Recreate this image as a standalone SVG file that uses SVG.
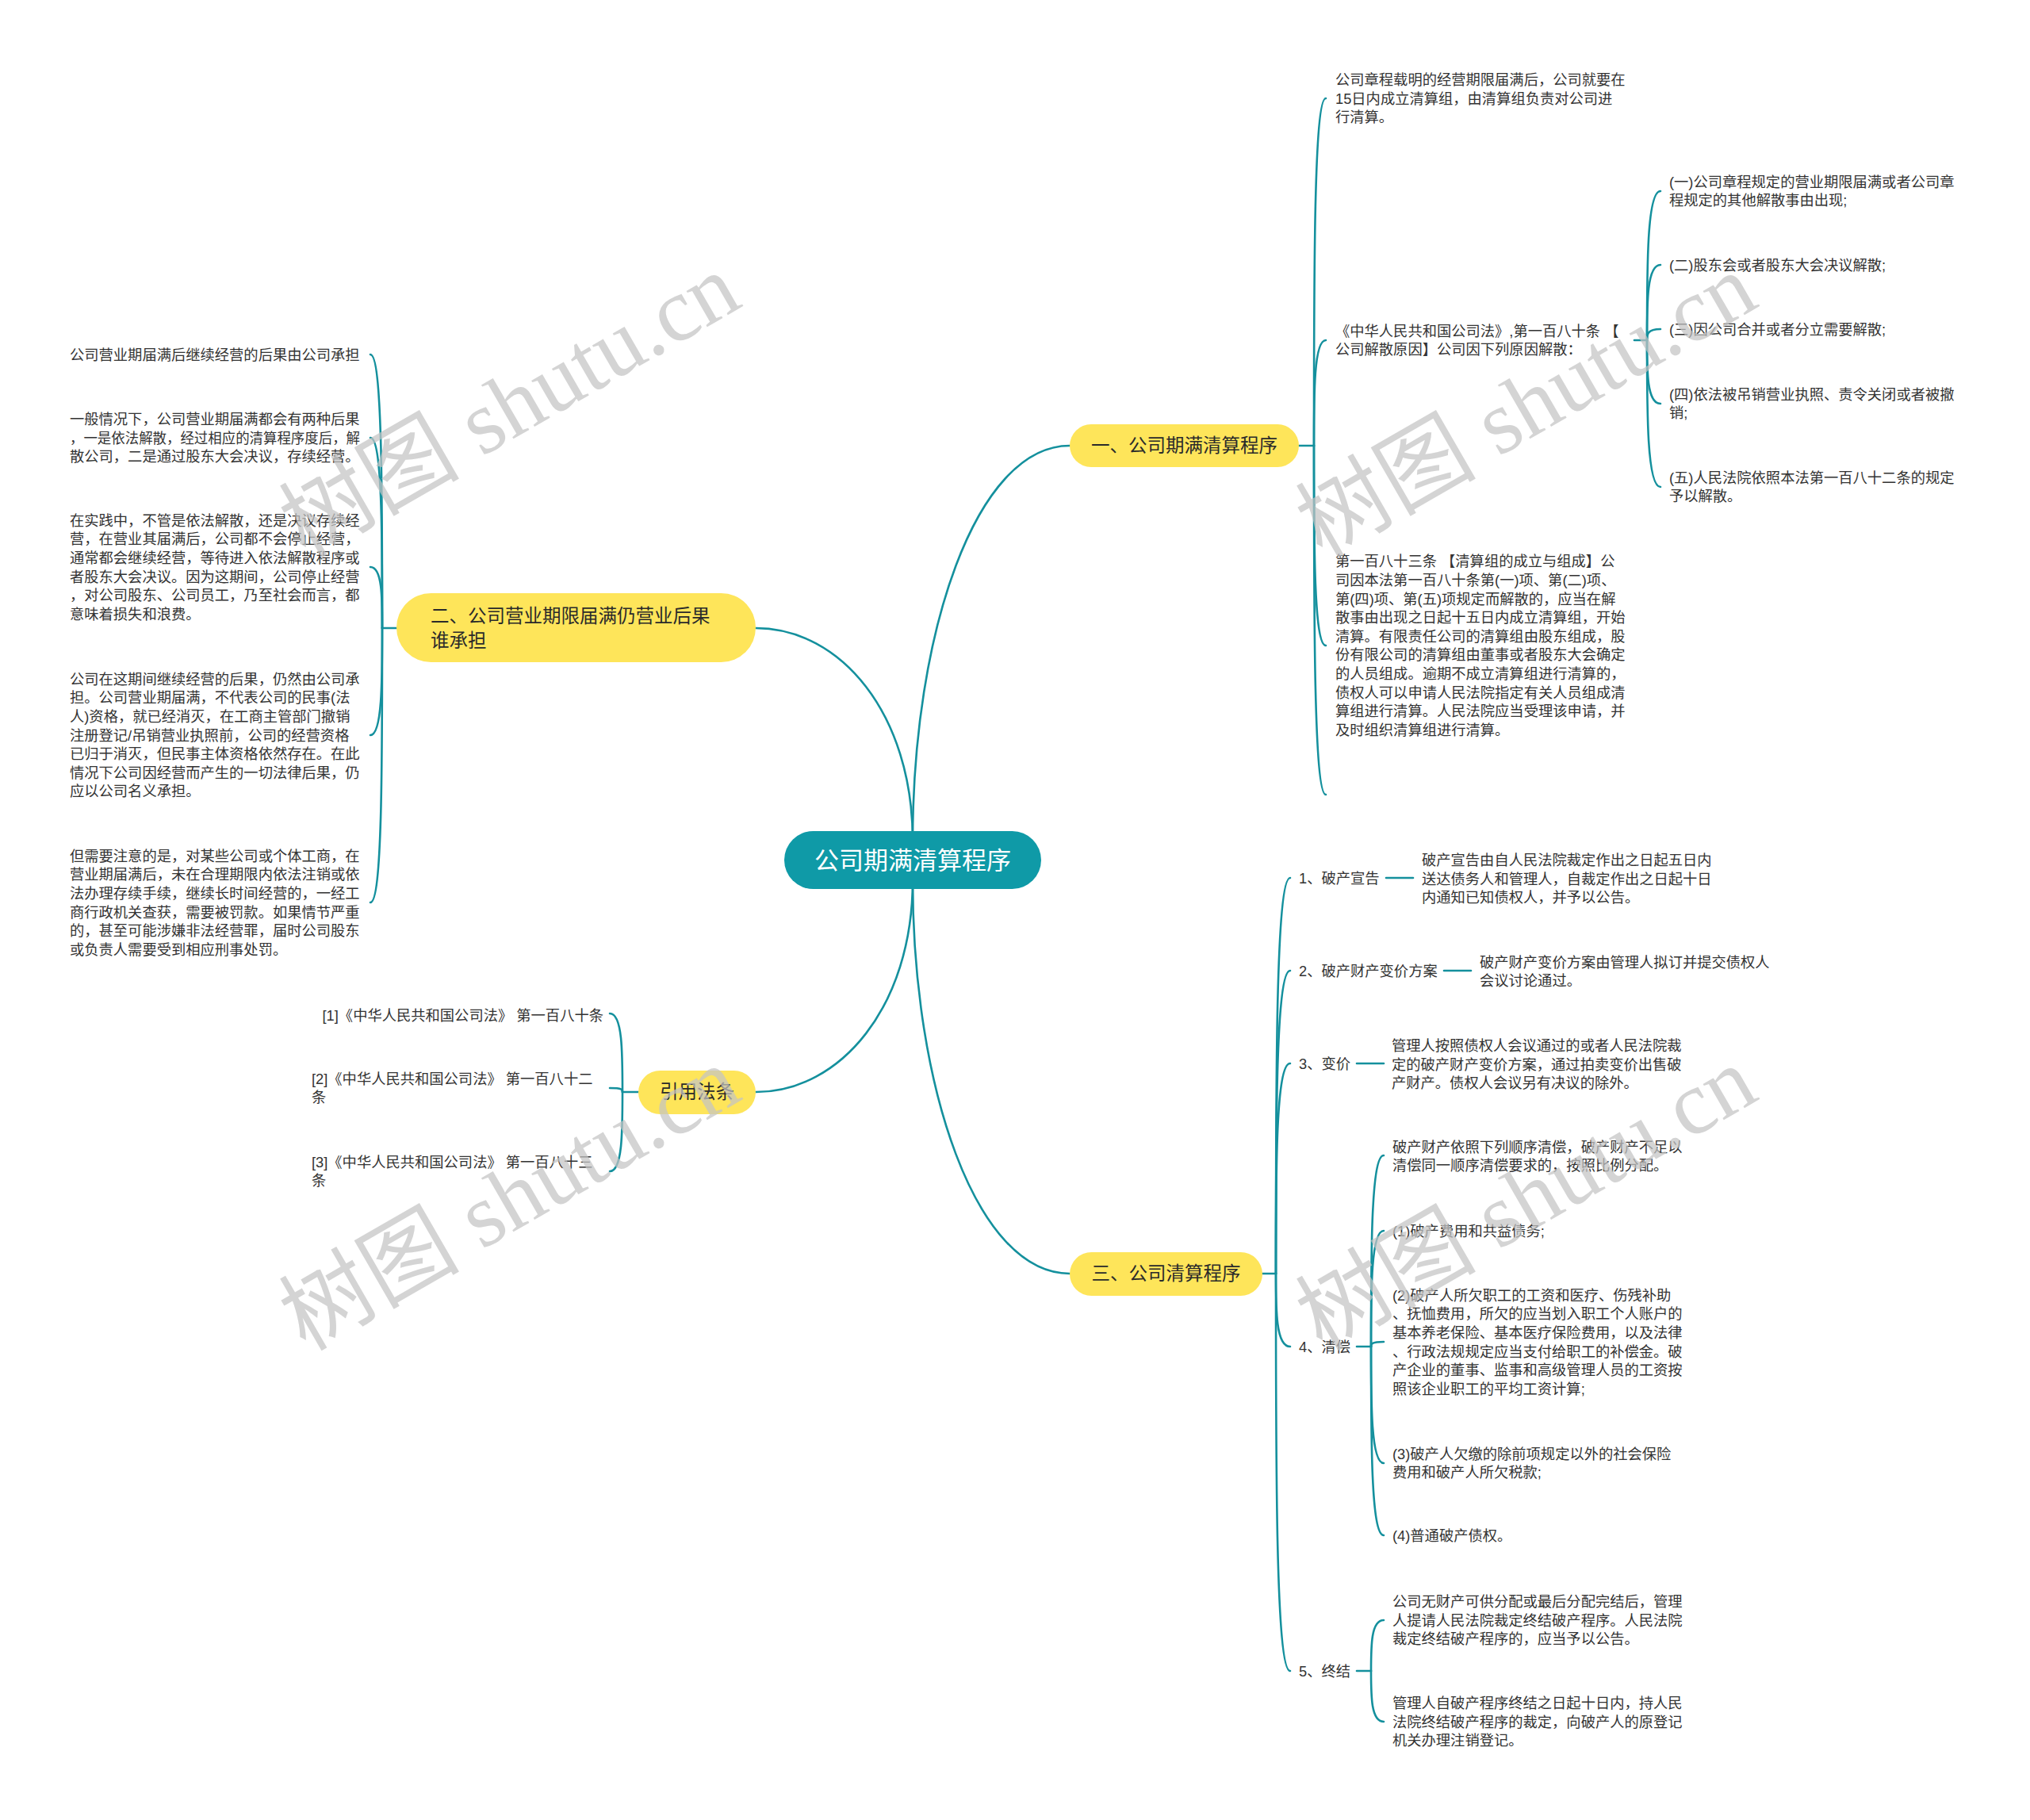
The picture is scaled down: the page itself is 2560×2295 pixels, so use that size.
<svg xmlns="http://www.w3.org/2000/svg" width="2560" height="2295" viewBox="0 0 2560 2295">
<style>
.t{font-family:'Liberation Sans','Noto Sans CJK SC',sans-serif;font-size:18.3px;fill:#333}
.m{font-family:'Liberation Sans','Noto Sans CJK SC',sans-serif;font-size:23.5px;fill:#2a2a2a}
.r{font-family:'Liberation Sans','Noto Sans CJK SC',sans-serif;font-size:31px;fill:#fff}
.ln{fill:none;stroke:#14909d;stroke-width:2.6;stroke-linecap:round}
.pill{fill:#fee55a}
.root{fill:#0f9aa7}
.wm{font-family:'Liberation Serif','Noto Sans CJK SC',serif;font-size:114px;fill:#c4c4c4;opacity:0.72}
</style>
<rect width="2560" height="2295" fill="#fff"/>
<g id="connectors">
<path class="ln" d="M1151,1060 C1151,800 1230,562 1349,562"/>
<path class="ln" d="M1151,1060 C1151,900 1060,792 953,792"/>
<path class="ln" d="M1151,1110 C1151,1269 1060,1377 953,1377"/>
<path class="ln" d="M1151,1110 C1151,1369 1230,1606 1349,1606"/>
<path class="ln" d="M1638,562 H1657"/>
<path class="ln" d="M1657,562 C1657,343 1657,124 1672,124"/>
<path class="ln" d="M1657,562 C1657,495 1657,429 1672,429"/>
<path class="ln" d="M1657,562 C1657,688 1657,814 1672,814"/>
<path class="ln" d="M1657,562 C1657,782 1657,1002 1672,1002"/>
<path class="ln" d="M2061,429 H2077"/>
<path class="ln" d="M2077,429 C2077,335 2077,241 2094,241"/>
<path class="ln" d="M2077,429 C2077,381 2077,334 2094,334"/>
<path class="ln" d="M2077,429 C2077,422 2077,415 2094,415"/>
<path class="ln" d="M2077,429 C2077,469 2077,509 2094,509"/>
<path class="ln" d="M2077,429 C2077,521 2077,614 2094,614"/>
<path class="ln" d="M500,792 H482"/>
<path class="ln" d="M482,792 C482,619 482,447 467,447"/>
<path class="ln" d="M482,792 C482,672 482,552 467,552"/>
<path class="ln" d="M482,792 C482,753 482,715 467,715"/>
<path class="ln" d="M482,792 C482,859 482,927 467,927"/>
<path class="ln" d="M482,792 C482,965 482,1138 467,1138"/>
<path class="ln" d="M805,1377 H785"/>
<path class="ln" d="M785,1377 C785,1327 785,1278 769,1278"/>
<path class="ln" d="M785,1377 C785,1374 785,1372 769,1372"/>
<path class="ln" d="M785,1377 C785,1427 785,1477 769,1477"/>
<path class="ln" d="M1592,1606 H1609"/>
<path class="ln" d="M1609,1606 C1609,1356 1609,1107 1627,1107"/>
<path class="ln" d="M1609,1606 C1609,1415 1609,1224 1627,1224"/>
<path class="ln" d="M1609,1606 C1609,1473 1609,1341 1627,1341"/>
<path class="ln" d="M1609,1606 C1609,1652 1609,1698 1627,1698"/>
<path class="ln" d="M1609,1606 C1609,1856 1609,2107 1627,2107"/>
<path class="ln" d="M1748,1107 H1782"/>
<path class="ln" d="M1821,1224 H1855"/>
<path class="ln" d="M1711,1341 H1745"/>
<path class="ln" d="M1711,1698 H1729"/>
<path class="ln" d="M1729,1698 C1729,1577 1729,1457 1745,1457"/>
<path class="ln" d="M1729,1698 C1729,1625 1729,1552 1745,1552"/>
<path class="ln" d="M1729,1698 C1729,1695 1729,1692 1745,1692"/>
<path class="ln" d="M1729,1698 C1729,1771 1729,1845 1745,1845"/>
<path class="ln" d="M1729,1698 C1729,1817 1729,1936 1745,1936"/>
<path class="ln" d="M1711,2107 H1729"/>
<path class="ln" d="M1729,2107 C1729,2075 1729,2043 1745,2043"/>
<path class="ln" d="M1729,2107 C1729,2139 1729,2171 1745,2171"/>
</g>
<g id="root">
<rect class="root" x="989" y="1048" width="324" height="73" rx="36.5"/>
<text class="r" x="1151" y="1096" text-anchor="middle">公司期满清算程序</text>
</g>
<g id="branch1">
<rect class="pill" x="1349" y="535" width="289" height="54" rx="27"/>
<text class="m" x="1493.5" y="570.3" text-anchor="middle">一、公司期满清算程序</text>
</g>
<g id="branch2">
<rect class="pill" x="500" y="748" width="453" height="87" rx="43.5"/>
<text class="m"><tspan x="543" y="785.3">二、公司营业期限届满仍营业后果</tspan><tspan x="543" y="816.3">谁承担</tspan></text>
</g>
<g id="branch-ref">
<rect class="pill" x="805" y="1350" width="148" height="55" rx="27.5"/>
<text class="m" x="879" y="1385.3" text-anchor="middle">引用法条</text>
</g>
<g id="branch3">
<rect class="pill" x="1349" y="1579" width="243" height="55" rx="27.5"/>
<text class="m" x="1470.5" y="1614.3" text-anchor="middle">三、公司清算程序</text>
</g>
<g id="b1-a"><text class="t"><tspan x="1684" y="107">公司章程载明的经营期限届满后，公司就要在</tspan><tspan x="1684" y="130.5">15日内成立清算组，由清算组负责对公司进</tspan><tspan x="1684" y="154">行清算。</tspan></text></g>
<g id="b1-b"><text class="t"><tspan x="1684" y="423.7">《中华人民共和国公司法》,第一百八十条 【</tspan><tspan x="1684" y="447.3">公司解散原因】公司因下列原因解散：</tspan></text></g>
<g id="b1-b1"><text class="t"><tspan x="2105" y="235.7">(一)公司章程规定的营业期限届满或者公司章</tspan><tspan x="2105" y="259.3">程规定的其他解散事由出现;</tspan></text></g>
<g id="b1-b2"><text class="t" x="2105" y="340.5">(二)股东会或者股东大会决议解散;</text></g>
<g id="b1-b3"><text class="t" x="2105" y="421.5">(三)因公司合并或者分立需要解散;</text></g>
<g id="b1-b4"><text class="t"><tspan x="2105" y="503.7">(四)依法被吊销营业执照、责令关闭或者被撤</tspan><tspan x="2105" y="527.3">销;</tspan></text></g>
<g id="b1-b5"><text class="t"><tspan x="2105" y="608.7">(五)人民法院依照本法第一百八十二条的规定</tspan><tspan x="2105" y="632.3">予以解散。</tspan></text></g>
<g id="b1-c"><text class="t"><tspan x="1684" y="714.3">第一百八十三条 【清算组的成立与组成】公</tspan><tspan x="1684" y="737.9">司因本法第一百八十条第(一)项、第(二)项、</tspan><tspan x="1684" y="761.5">第(四)项、第(五)项规定而解散的，应当在解</tspan><tspan x="1684" y="785.1">散事由出现之日起十五日内成立清算组，开始</tspan><tspan x="1684" y="808.7">清算。有限责任公司的清算组由股东组成，股</tspan><tspan x="1684" y="832.3">份有限公司的清算组由董事或者股东大会确定</tspan><tspan x="1684" y="855.9">的人员组成。逾期不成立清算组进行清算的，</tspan><tspan x="1684" y="879.5">债权人可以申请人民法院指定有关人员组成清</tspan><tspan x="1684" y="903.1">算组进行清算。人民法院应当受理该申请，并</tspan><tspan x="1684" y="926.7">及时组织清算组进行清算。</tspan></text></g>
<g id="b2-1"><text class="t" x="88" y="453.5">公司营业期届满后继续经营的后果由公司承担</text></g>
<g id="b2-2"><text class="t"><tspan x="88" y="535">一般情况下，公司营业期届满都会有两种后果</tspan><tspan x="88" y="558.5" textLength="366" lengthAdjust="spacingAndGlyphs">，一是依法解散，经过相应的清算程序度后，解</tspan><tspan x="88" y="582">散公司，二是通过股东大会决议，存续经营。</tspan></text></g>
<g id="b2-3"><text class="t"><tspan x="88" y="662.5">在实践中，不管是依法解散，还是决议存续经</tspan><tspan x="88" y="686">营，在营业其届满后，公司都不会停止经营，</tspan><tspan x="88" y="709.5">通常都会继续经营，等待进入依法解散程序或</tspan><tspan x="88" y="733.5">者股东大会决议。因为这期间，公司停止经营</tspan><tspan x="88" y="757">，对公司股东、公司员工，乃至社会而言，都</tspan><tspan x="88" y="780.5">意味着损失和浪费。</tspan></text></g>
<g id="b2-4"><text class="t"><tspan x="88" y="862.7">公司在这期间继续经营的后果，仍然由公司承</tspan><tspan x="88" y="886.3">担。公司营业期届满，不代表公司的民事(法</tspan><tspan x="88" y="909.9">人)资格，就已经消灭，在工商主管部门撤销</tspan><tspan x="88" y="933.5">注册登记/吊销营业执照前，公司的经营资格</tspan><tspan x="88" y="957.1">已归于消灭，但民事主体资格依然存在。在此</tspan><tspan x="88" y="980.7">情况下公司因经营而产生的一切法律后果，仍</tspan><tspan x="88" y="1004.3">应以公司名义承担。</tspan></text></g>
<g id="b2-5"><text class="t"><tspan x="88" y="1085.5">但需要注意的是，对某些公司或个体工商，在</tspan><tspan x="88" y="1109">营业期届满后，未在合理期限内依法注销或依</tspan><tspan x="88" y="1132.5">法办理存续手续，继续长时间经营的，一经工</tspan><tspan x="88" y="1156.5">商行政机关查获，需要被罚款。如果情节严重</tspan><tspan x="88" y="1180">的，甚至可能涉嫌非法经营罪，届时公司股东</tspan><tspan x="88" y="1203.5">或负责人需要受到相应刑事处罚。</tspan></text></g>
<g id="ref-1"><text class="t" x="761" y="1286.5" text-anchor="end">[1]《中华人民共和国公司法》 第一百八十条</text></g>
<g id="ref-2"><text class="t"><tspan x="393" y="1366.7">[2]《中华人民共和国公司法》 第一百八十二</tspan><tspan x="393" y="1390.3">条</tspan></text></g>
<g id="ref-3"><text class="t"><tspan x="393" y="1471.7">[3]《中华人民共和国公司法》 第一百八十三</tspan><tspan x="393" y="1495.3">条</tspan></text></g>
<g id="b3-1"><text class="t" x="1638" y="1113.5">1、破产宣告</text></g>
<g id="b3-1a"><text class="t"><tspan x="1793" y="1091">破产宣告由自人民法院裁定作出之日起五日内</tspan><tspan x="1793" y="1114.5">送达债务人和管理人，自裁定作出之日起十日</tspan><tspan x="1793" y="1138">内通知已知债权人，并予以公告。</tspan></text></g>
<g id="b3-2"><text class="t" x="1638" y="1230.5">2、破产财产变价方案</text></g>
<g id="b3-2a"><text class="t"><tspan x="1866" y="1219.7">破产财产变价方案由管理人拟订并提交债权人</tspan><tspan x="1866" y="1243.3">会议讨论通过。</tspan></text></g>
<g id="b3-3"><text class="t" x="1638" y="1347.5">3、变价</text></g>
<g id="b3-3a"><text class="t"><tspan x="1755" y="1325">管理人按照债权人会议通过的或者人民法院裁</tspan><tspan x="1755" y="1348.5">定的破产财产变价方案，通过拍卖变价出售破</tspan><tspan x="1755" y="1372">产财产。债权人会议另有决议的除外。</tspan></text></g>
<g id="b3-4"><text class="t" x="1638" y="1704.5">4、清偿</text></g>
<g id="b3-4a"><text class="t"><tspan x="1756" y="1452.7">破产财产依照下列顺序清偿，破产财产不足以</tspan><tspan x="1756" y="1476.3">清偿同一顺序清偿要求的，按照比例分配。</tspan></text></g>
<g id="b3-4b"><text class="t" x="1756" y="1558.5">(1)破产费用和共益债务;</text></g>
<g id="b3-4c"><text class="t"><tspan x="1756" y="1639.5">(2)破产人所欠职工的工资和医疗、伤残补助</tspan><tspan x="1756" y="1663">、抚恤费用，所欠的应当划入职工个人账户的</tspan><tspan x="1756" y="1686.5">基本养老保险、基本医疗保险费用，以及法律</tspan><tspan x="1756" y="1710.5">、行政法规规定应当支付给职工的补偿金。破</tspan><tspan x="1756" y="1734">产企业的董事、监事和高级管理人员的工资按</tspan><tspan x="1756" y="1757.5">照该企业职工的平均工资计算;</tspan></text></g>
<g id="b3-4d"><text class="t"><tspan x="1756" y="1839.7">(3)破产人欠缴的除前项规定以外的社会保险</tspan><tspan x="1756" y="1863.3">费用和破产人所欠税款;</tspan></text></g>
<g id="b3-4e"><text class="t" x="1756" y="1942.5">(4)普通破产债权。</text></g>
<g id="b3-5"><text class="t" x="1638" y="2113.5">5、终结</text></g>
<g id="b3-5a"><text class="t"><tspan x="1756" y="2026">公司无财产可供分配或最后分配完结后，管理</tspan><tspan x="1756" y="2049.5">人提请人民法院裁定终结破产程序。人民法院</tspan><tspan x="1756" y="2073">裁定终结破产程序的，应当予以公告。</tspan></text></g>
<g id="b3-5b"><text class="t"><tspan x="1756" y="2154">管理人自破产程序终结之日起十日内，持人民</tspan><tspan x="1756" y="2177.5">法院终结破产程序的裁定，向破产人的原登记</tspan><tspan x="1756" y="2201">机关办理注销登记。</tspan></text></g>
<g id="watermark">
<text class="wm" transform="translate(643,512) rotate(-30)" x="0" y="38" text-anchor="middle">树图 shutu.cn</text>
<text class="wm" transform="translate(1925,512) rotate(-30)" x="0" y="38" text-anchor="middle">树图 shutu.cn</text>
<text class="wm" transform="translate(643,1512) rotate(-30)" x="0" y="38" text-anchor="middle">树图 shutu.cn</text>
<text class="wm" transform="translate(1925,1512) rotate(-30)" x="0" y="38" text-anchor="middle">树图 shutu.cn</text>
</g>
</svg>
